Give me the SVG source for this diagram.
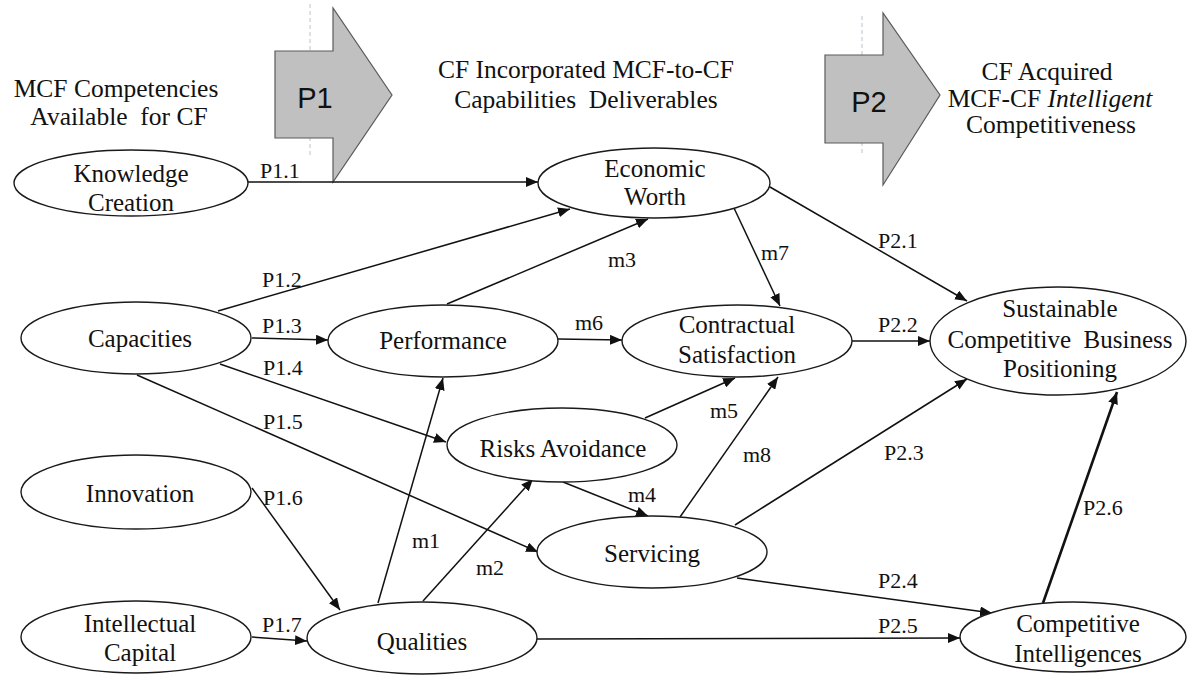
<svg xmlns="http://www.w3.org/2000/svg" width="1188" height="677" viewBox="0 0 1188 677">
  <style>
    .bg { fill: #ffffff; }
    .node ellipse { fill: #ffffff; stroke: #1a1a1a; stroke-width: 1.4; }
    .ntxt { font-family: "Liberation Serif", "Times New Roman", serif; font-size: 25px; fill: #111; text-anchor: middle; }
    .head { font-family: "Liberation Serif", "Times New Roman", serif; font-size: 25.5px; fill: #111; text-anchor: middle; }
    .lbl { font-family: "Liberation Serif", "Times New Roman", serif; font-size: 22px; fill: #111; }
    .edge { stroke: #111; stroke-width: 1.5; fill: none; marker-end: url(#ah); }
    .thick { stroke-width: 2.6; }
    .block { fill: #c0c0c0; stroke: #5a5a5a; stroke-width: 1.2; }
    .blocktxt { font-family: "Liberation Sans", Arial, sans-serif; font-size: 29px; fill: #111; text-anchor: middle; }
    .guide { stroke: #b8c4cc; stroke-width: 1; stroke-dasharray: 4 3; }
  </style>
  <defs>
    <marker id="ah" viewBox="0 0 12 10" refX="12" refY="5" markerWidth="12" markerHeight="10" markerUnits="userSpaceOnUse" orient="auto">
      <path d="M0,0 L12,5 L0,10 z" fill="#111"/>
    </marker>
  </defs>
  <rect class="bg" width="1188" height="677"/>

  <!-- phase block arrows -->
  <g id="phase-p1">
    <line class="guide" x1="310" y1="4" x2="310" y2="156"/>
    <path class="block" d="M275,51 L333,51 L333,8 L392,95 L333,182 L333,138 L275,138 Z"/>
    <text class="blocktxt" x="315" y="108">P1</text>
  </g>
  <g id="phase-p2">
    <line class="guide" x1="862" y1="16" x2="862" y2="156"/>
    <path class="block" d="M825,55 L883,55 L883,13 L940,95 L883,185 L883,143 L825,143 Z"/>
    <text class="blocktxt" x="869" y="112">P2</text>
  </g>

  <!-- column headings -->
  <g id="headings">
    <text class="head" x="116" y="97">MCF Competencies</text>
    <text class="head" x="119" y="125" xml:space="preserve">Available  for CF</text>
    <text class="head" x="586" y="78">CF Incorporated MCF-to-CF</text>
    <text class="head" x="586" y="108" xml:space="preserve">Capabilities  Deliverables</text>
    <text class="head" x="1047" y="80">CF Acquired</text>
    <text class="head" x="1050" y="107">MCF-CF <tspan font-style="italic">Intelligent</tspan></text>
    <text class="head" x="1051" y="133">Competitiveness</text>
  </g>

  <!-- connectors -->
  <g id="connectors">
    <line class="edge" x1="248" y1="182" x2="538" y2="182" stroke-width="2"/>
    <line class="edge" x1="218" y1="311" x2="570" y2="209"/>
    <line class="edge" x1="252" y1="338" x2="328" y2="340"/>
    <line class="edge" x1="220" y1="364" x2="446" y2="442"/>
    <line class="edge" x1="137" y1="375" x2="538" y2="552"/>
    <line class="edge" x1="252" y1="488" x2="340" y2="610"/>
    <line class="edge" x1="252" y1="637" x2="307" y2="641"/>
    <line class="edge" x1="378" y1="603" x2="443" y2="378"/>
    <line class="edge" x1="423" y1="601" x2="533" y2="479"/>
    <line class="edge" x1="447" y1="304" x2="648" y2="219"/>
    <line class="edge" x1="563" y1="482" x2="648" y2="516"/>
    <line class="edge" x1="645" y1="418" x2="735" y2="378"/>
    <line class="edge" x1="558" y1="339" x2="622" y2="340"/>
    <line class="edge" x1="734" y1="208" x2="780" y2="306"/>
    <line class="edge" x1="680" y1="517" x2="778" y2="377"/>
    <line class="edge" x1="770" y1="187" x2="967" y2="301"/>
    <line class="edge" x1="852" y1="341" x2="930" y2="341"/>
    <line class="edge" x1="735" y1="525" x2="967" y2="379"/>
    <line class="edge" x1="737" y1="578" x2="992" y2="613"/>
    <line class="edge" x1="537" y1="639" x2="960" y2="638"/>
    <line class="edge thick" x1="1043" y1="603" x2="1117" y2="392"/>
  </g>

  <!-- connector labels -->
  <g id="connector-labels">
    <text class="lbl" x="260" y="178">P1.1</text>
    <text class="lbl" x="262" y="287">P1.2</text>
    <text class="lbl" x="262" y="333">P1.3</text>
    <text class="lbl" x="263" y="375">P1.4</text>
    <text class="lbl" x="263" y="429">P1.5</text>
    <text class="lbl" x="263" y="505">P1.6</text>
    <text class="lbl" x="262" y="632">P1.7</text>
    <text class="lbl" x="412" y="548">m1</text>
    <text class="lbl" x="476" y="575">m2</text>
    <text class="lbl" x="608" y="267">m3</text>
    <text class="lbl" x="628" y="502">m4</text>
    <text class="lbl" x="710" y="418">m5</text>
    <text class="lbl" x="575" y="330">m6</text>
    <text class="lbl" x="761" y="260">m7</text>
    <text class="lbl" x="743" y="462">m8</text>
    <text class="lbl" x="878" y="248">P2.1</text>
    <text class="lbl" x="878" y="332">P2.2</text>
    <text class="lbl" x="884" y="460">P2.3</text>
    <text class="lbl" x="878" y="588">P2.4</text>
    <text class="lbl" x="878" y="633">P2.5</text>
    <text class="lbl" x="1083" y="515">P2.6</text>
  </g>

  <!-- nodes -->
  <g id="knowledge-creation" class="node">
    <ellipse cx="131" cy="183" rx="117" ry="33"/>
    <text class="ntxt" x="131" y="182">Knowledge</text>
    <text class="ntxt" x="131" y="211">Creation</text>
  </g>
  <g id="capacities" class="node">
    <ellipse cx="136" cy="338" rx="115" ry="36"/>
    <text class="ntxt" x="140" y="347">Capacities</text>
  </g>
  <g id="innovation" class="node">
    <ellipse cx="136" cy="492" rx="115" ry="37"/>
    <text class="ntxt" x="140" y="502">Innovation</text>
  </g>
  <g id="intellectual-capital" class="node">
    <ellipse cx="136" cy="637" rx="115" ry="36"/>
    <text class="ntxt" x="140" y="632">Intellectual</text>
    <text class="ntxt" x="140" y="661">Capital</text>
  </g>
  <g id="economic-worth" class="node">
    <ellipse cx="654" cy="183" rx="116" ry="35"/>
    <text class="ntxt" x="655" y="177">Economic</text>
    <text class="ntxt" x="655" y="205">Worth</text>
  </g>
  <g id="performance" class="node">
    <ellipse cx="443" cy="341" rx="115" ry="36"/>
    <text class="ntxt" x="443" y="349">Performance</text>
  </g>
  <g id="contractual-satisfaction" class="node">
    <ellipse cx="737" cy="341" rx="115" ry="36"/>
    <text class="ntxt" x="737" y="333">Contractual</text>
    <text class="ntxt" x="737" y="363">Satisfaction</text>
  </g>
  <g id="risks-avoidance" class="node">
    <ellipse cx="562" cy="445" rx="115" ry="37"/>
    <text class="ntxt" x="563" y="457">Risks Avoidance</text>
  </g>
  <g id="servicing" class="node">
    <ellipse cx="652" cy="552" rx="115" ry="36"/>
    <text class="ntxt" x="652" y="562">Servicing</text>
  </g>
  <g id="qualities" class="node">
    <ellipse cx="422" cy="638" rx="115" ry="36"/>
    <text class="ntxt" x="422" y="650">Qualities</text>
  </g>
  <g id="sustainable-positioning" class="node">
    <ellipse cx="1058" cy="341" rx="128" ry="54"/>
    <text class="ntxt" x="1060" y="317">Sustainable</text>
    <text class="ntxt" x="1060" y="348" xml:space="preserve">Competitive  Business</text>
    <text class="ntxt" x="1060" y="377">Positioning</text>
  </g>
  <g id="competitive-intelligences" class="node">
    <ellipse cx="1073" cy="637" rx="113" ry="35"/>
    <text class="ntxt" x="1078" y="632">Competitive</text>
    <text class="ntxt" x="1078" y="662">Intelligences</text>
  </g>
</svg>
